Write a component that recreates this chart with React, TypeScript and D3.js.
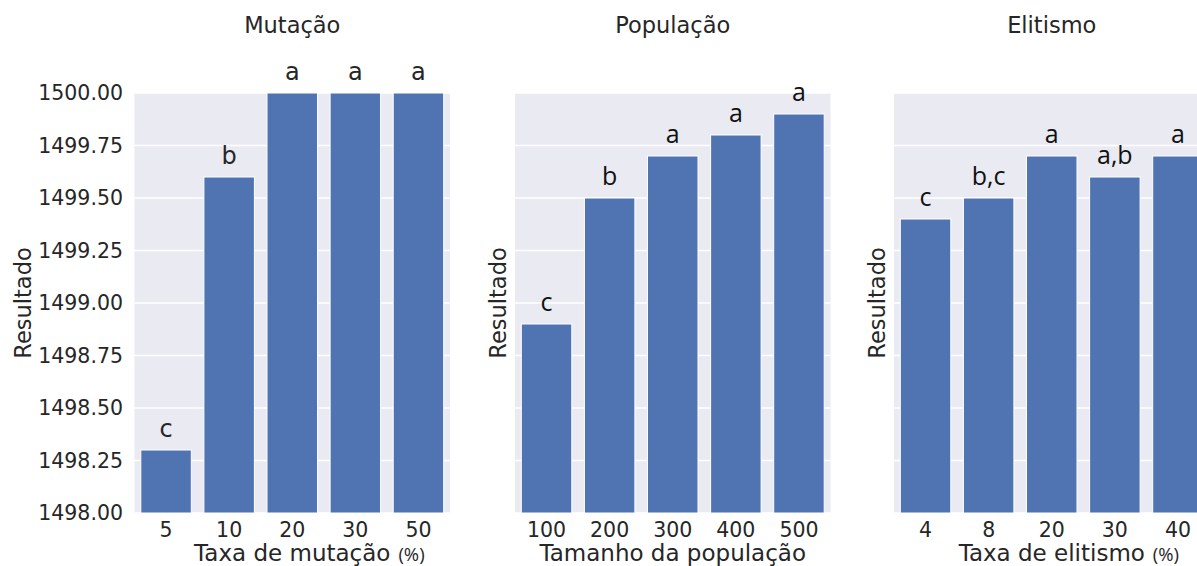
import React, { useEffect, useRef } from "react";
import * as d3 from "d3";

const WIDTH = 1197;
const HEIGHT = 566;

// Panel titles and axis labels
const panelTitles = ["Mutação", "População", "Elitismo"];
const xLabels = ["Taxa de mutação", "Tamanho da população", "Taxa de elitismo"];
const xLabelUnits = ["(%)", "", "(%)"];
const yLabel = "Resultado";

// Mutation rate experiment
const mutationCats = ["5", "10", "20", "30", "50"];
const mutationVals = [1498.3, 1499.6, 1500.0, 1500.0, 1500.0];
const mutationGroups = ["c", "b", "a", "a", "a"];

// Population size experiment
const populationCats = ["100", "200", "300", "400", "500"];
const populationVals = [1498.9, 1499.5, 1499.7, 1499.8, 1499.9];
const populationGroups = ["c", "b", "a", "a", "a"];

// Elitism rate experiment
const elitismCats = ["4", "8", "20", "30", "40"];
const elitismVals = [1499.4, 1499.5, 1499.7, 1499.6, 1499.7];
const elitismGroups = ["c", "b,c", "a", "a,b", "a"];

const yDomain: [number, number] = [1498, 1500];
const yTicks = [1498.0, 1498.25, 1498.5, 1498.75, 1499.0, 1499.25, 1499.5, 1499.75, 1500.0];

const BAR = "#5074b2";
const BG = "#eaeaf2";
const TEXT = "#262626";
const FONT = "DejaVu Sans, Verdana, sans-serif";

export default function App() {
  const ref = useRef<SVGSVGElement>(null);

  useEffect(() => {
    const svg = d3.select(ref.current);
    svg.selectAll("*").remove();

    const top = 93;
    const bottom = 513;
    const panelLefts = [134.5, 515, 894];
    const panelWidth = 315.5;

    const y = d3.scaleLinear().domain(yDomain).range([bottom, top]);

    const panels = [
      { cats: mutationCats, vals: mutationVals, groups: mutationGroups, letterFont: FONT, letterSize: 24, letterColor: TEXT },
      { cats: populationCats, vals: populationVals, groups: populationGroups, letterFont: "Open Sans, sans-serif", letterSize: 25, letterColor: "#111" },
      { cats: elitismCats, vals: elitismVals, groups: elitismGroups, letterFont: "Open Sans, sans-serif", letterSize: 25, letterColor: "#111" },
    ];

    panels.forEach((p, i) => {
      const left = panelLefts[i];
      const right = left + panelWidth;
      const g = svg.append("g");

      const x = d3
        .scaleBand<string>()
        .domain(p.cats)
        .range([left, right])
        .paddingInner(0.2)
        .paddingOuter(0.1);

      // background
      g.append("rect")
        .attr("x", left)
        .attr("y", top)
        .attr("width", panelWidth)
        .attr("height", bottom - top)
        .attr("fill", BG);

      // horizontal grid
      g.selectAll("line.grid")
        .data(yTicks)
        .join("line")
        .attr("class", "grid")
        .attr("x1", left)
        .attr("x2", right)
        .attr("y1", (d) => y(d))
        .attr("y2", (d) => y(d))
        .attr("stroke", "#fff")
        .attr("stroke-width", 1.5);

      // bars
      const data = p.cats.map((c, k) => ({ cat: c, val: p.vals[k], group: p.groups[k] }));
      g.selectAll("rect.bar")
        .data(data)
        .join("rect")
        .attr("class", "bar")
        .attr("x", (d) => x(d.cat)!)
        .attr("width", x.bandwidth())
        .attr("y", (d) => y(d.val))
        .attr("height", (d) => bottom - y(d.val))
        .attr("fill", BAR)
        .attr("stroke", "#fff")
        .attr("stroke-width", 1);

      // group letters
      g.selectAll("text.grp")
        .data(data)
        .join("text")
        .attr("class", "grp")
        .attr("x", (d) => x(d.cat)! + x.bandwidth() / 2)
        .attr("y", (d) => y(d.val) - 13)
        .attr("text-anchor", "middle")
        .attr("font-family", p.letterFont)
        .attr("font-size", p.letterSize)
        .attr("fill", p.letterColor)
        .text((d) => d.group);

      // x tick labels
      g.selectAll("text.xt")
        .data(p.cats)
        .join("text")
        .attr("class", "xt")
        .attr("x", (d) => x(d)! + x.bandwidth() / 2)
        .attr("y", 537)
        .attr("text-anchor", "middle")
        .attr("font-family", FONT)
        .attr("font-size", 20.5)
        .attr("fill", TEXT)
        .text((d) => d);

      // x label, with a smaller unit suffix after the centered text
      const cx = (left + right) / 2;
      const lbl = g
        .append("text")
        .attr("x", cx)
        .attr("y", 561)
        .attr("text-anchor", "middle")
        .attr("font-family", FONT)
        .attr("font-size", 23)
        .attr("fill", TEXT)
        .text(xLabels[i]);
      if (xLabelUnits[i]) {
        const w = (lbl.node() as SVGTextElement).getComputedTextLength();
        g.append("text")
          .attr("x", cx + w / 2 + 8)
          .attr("y", 561)
          .attr("font-family", "Open Sans, sans-serif")
          .attr("font-size", 18.5)
          .attr("fill", TEXT)
          .text(xLabelUnits[i]);
      }

      // title
      g.append("text")
        .attr("x", cx)
        .attr("y", 33)
        .attr("text-anchor", "middle")
        .attr("font-family", FONT)
        .attr("font-size", 22.5)
        .attr("fill", TEXT)
        .text(panelTitles[i]);

      // y label
      const yLabelX = i === 0 ? 22.5 : left - 17;
      g.append("text")
        .attr("transform", `translate(${yLabelX + 8},${(top + bottom) / 2}) rotate(-90)`)
        .attr("text-anchor", "middle")
        .attr("font-family", FONT)
        .attr("font-size", 22.5)
        .attr("fill", TEXT)
        .text(yLabel);

      // y tick labels only on the first panel (shared axis)
      if (i === 0) {
        g.selectAll("text.yt")
          .data(yTicks)
          .join("text")
          .attr("class", "yt")
          .attr("x", left - 11.5)
          .attr("y", (d) => y(d))
          .attr("dy", "0.36em")
          .attr("text-anchor", "end")
          .attr("font-family", FONT)
          .attr("font-size", 20.5)
          .attr("fill", TEXT)
          .text((d) => d3.format(".2f")(d));
      }
    });
  }, []);

  return (
    <svg
      ref={ref}
      width={WIDTH}
      height={HEIGHT}
      style={{ position: "absolute", left: 0, top: 0, background: "#fff" }}
    />
  );
}
